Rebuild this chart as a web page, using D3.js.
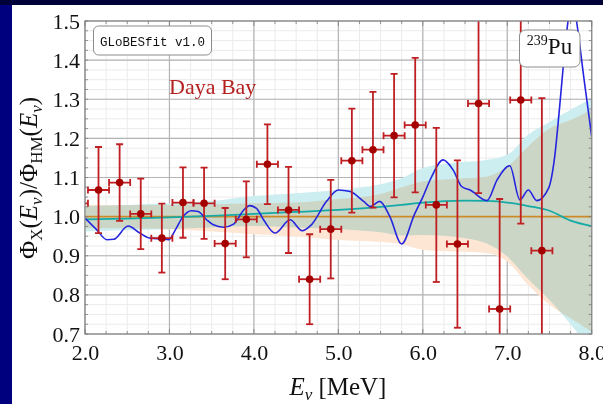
<!DOCTYPE html>
<html>
<head>
<meta charset="utf-8">
<script src="https://cdn.jsdelivr.net/npm/d3@7"></script>
<style>
  body { margin: 0; background: #00007e; }
  svg { display: block; }
</style>
</head>
<body>
<svg id="chart" width="603" height="404"></svg>
<script>
// Daya Bay 239Pu data points (bin centres in MeV, ratio, 1 sigma)
const binE = [1.91, 2.16, 2.41, 2.66, 2.91, 3.16, 3.41, 3.66, 3.91, 4.16, 4.41, 4.66,
  4.91, 5.16, 5.41, 5.66, 5.91, 6.16, 6.41, 6.66, 6.91, 7.16, 7.41];
const ratio = [1.034, 1.068, 1.087, 1.007, 0.945, 1.036, 1.034, 0.931, 0.993, 1.134, 1.017, 0.840,
  0.968, 1.143, 1.171, 1.207, 1.234, 1.030, 0.930, 1.289, 0.764, 1.298, 0.913];
const ratioErr = [0.10, 0.11, 0.098, 0.09, 0.088, 0.09, 0.091, 0.091, 0.097, 0.102, 0.11, 0.115,
  0.126, 0.133, 0.148, 0.158, 0.172, 0.197, 0.214, 0.229, 0.281, 0.316, 0.39];
const binHalf = 0.125;

// fit bands
const bandE   = [2.0, 2.5, 3.0, 3.5, 4.0, 4.5, 5.0, 5.5, 5.75, 6.0, 6.5, 6.75, 7.0, 7.25, 7.5, 7.75, 8.0];
const fitMid  = [0.993, 0.995, 0.998, 1.002, 1.007, 1.012, 1.017, 1.025, 1.030, 1.036, 1.041, 1.040, 1.036, 1.027, 1.015, 0.990, 0.976];
const fitHi   = [1.027, 1.030, 1.034, 1.040, 1.053, 1.060, 1.068, 1.083, 1.098, 1.124, 1.140, 1.145, 1.158, 1.210, 1.242, 1.273, 1.302];
const fitLo   = [0.962, 0.966, 0.968, 0.972, 0.976, 0.972, 0.968, 0.960, 0.952, 0.953, 0.945, 0.932, 0.898, 0.840, 0.787, 0.725, 0.655];
const hmHi    = [1.030, 1.030, 1.030, 1.031, 1.034, 1.036, 1.045, 1.058, 1.075, 1.090, 1.098, 1.102, 1.128, 1.180, 1.225, 1.247, 1.273];
const hmLo    = [0.970, 0.970, 0.968, 0.962, 0.955, 0.949, 0.940, 0.935, 0.930, 0.915, 0.910, 0.907, 0.885, 0.825, 0.775, 0.740, 0.706];
const hmRatio = 1.0;

// blue curve
const curveE = [2.00, 2.14, 2.26, 2.34, 2.51, 2.65, 2.77, 2.91, 2.99, 3.07, 3.16, 3.26, 3.34, 3.44,
  3.52, 3.64, 3.76, 3.88, 3.95, 4.03, 4.12, 4.25, 4.43, 4.57, 4.68, 4.86, 5.00, 5.14, 5.30, 5.38,
  5.49, 5.61, 5.75, 5.90, 6.00, 6.10, 6.24, 6.36, 6.46, 6.56, 6.76, 6.88, 7.03, 7.15, 7.25, 7.35,
  7.49, 7.56, 7.62, 7.67, 7.72, 7.77, 7.82, 7.91, 8.00];
const curveV = [0.996, 0.966, 0.941, 0.942, 0.976, 0.958, 0.945, 0.943, 0.941, 0.966, 1.000, 1.015, 1.013, 0.992,
  0.979, 0.973, 0.981, 1.017, 1.028, 1.021, 0.990, 0.958, 0.992, 0.964, 0.979, 1.039, 1.068, 1.064, 1.039, 1.026,
  1.039, 1.000, 0.930, 1.005, 1.050, 1.100, 1.145, 1.119, 1.077, 1.068, 1.041, 1.094, 1.130, 1.043, 1.068, 1.041,
  1.073, 1.150, 1.280, 1.400, 1.500, 1.560, 1.500, 1.350, 1.205];

const xTicks = [2, 3, 4, 5, 6, 7, 8];
const yTicks = [0.7, 0.8, 0.9, 1.0, 1.1, 1.2, 1.3, 1.4, 1.5];

const svg = d3.select("#chart");
const W = 603, H = 404;
const serif = "'Liberation Serif', 'DejaVu Serif', serif";

// slide background + white panel
svg.append("rect").attr("width", W).attr("height", H).attr("fill", "#00007e");
svg.append("rect").attr("width", W).attr("height", 5).attr("fill", "#000038");
svg.append("rect").attr("x", 12).attr("y", 5).attr("width", W - 12).attr("height", H - 5).attr("fill", "#fff");

const x = d3.scaleLinear().domain([2, 8]).range([85, 591.7]);
const y = d3.scaleLinear().domain([0.7, 1.5]).range([334, 21]);
const [x0, x1] = x.range(), [y0, y1] = [y(1.5), y(0.7)];

svg.append("clipPath").attr("id", "plotclip")
  .append("rect").attr("x", x0).attr("y", y0).attr("width", x1 - x0).attr("height", y1 - y0);

// grid
const xMinor = d3.range(2, 8.001, 0.25);
const yMinor = d3.range(0.7, 1.5001, 0.025);
const grid = svg.append("g");
grid.selectAll(".vx").data(xMinor).join("line")
  .attr("x1", d => x(d)).attr("x2", d => x(d)).attr("y1", y0).attr("y2", y1)
  .attr("stroke", "#ebebeb").attr("stroke-width", 1);
grid.selectAll(".hy").data(yMinor).join("line")
  .attr("x1", x0).attr("x2", x1).attr("y1", d => y(d)).attr("y2", d => y(d))
  .attr("stroke", "#ebebeb").attr("stroke-width", 1);
grid.append("g").selectAll("line").data(xTicks).join("line")
  .attr("x1", d => x(d)).attr("x2", d => x(d)).attr("y1", y0).attr("y2", y1)
  .attr("stroke", "#b4b4b4").attr("stroke-width", 1.2);
grid.append("g").selectAll("line").data(yTicks).join("line")
  .attr("x1", x0).attr("x2", x1).attr("y1", d => y(d)).attr("y2", d => y(d))
  .attr("stroke", "#b4b4b4").attr("stroke-width", 1.2);

const plot = svg.append("g").attr("clip-path", "url(#plotclip)");

// bands, multiplied so the overlap turns grey-green
const bands = plot.append("g").style("isolation", "isolate");
const bandArea = (hi, lo) => d3.area()
  .x((d, i) => x(bandE[i])).y0((d, i) => y(lo[i])).y1((d, i) => y(hi[i]))
  .curve(d3.curveMonotoneX)(bandE);
bands.append("path").attr("d", bandArea(fitHi, fitLo))
  .attr("fill", "#cdeef0").style("mix-blend-mode", "multiply");
bands.append("path").attr("d", bandArea(hmHi, hmLo))
  .attr("fill", "#fde6d4").style("mix-blend-mode", "multiply");

// HM line and fit line
plot.append("line").attr("x1", x0).attr("x2", x1)
  .attr("y1", y(hmRatio)).attr("y2", y(hmRatio))
  .attr("stroke", "#cc8a2a").attr("stroke-width", 1.6);
plot.append("path")
  .attr("d", d3.line().x((d, i) => x(bandE[i])).y(d => y(d)).curve(d3.curveMonotoneX)(fitMid))
  .attr("fill", "none").attr("stroke", "#16aaa6").attr("stroke-width", 1.8);

// blue curve
plot.append("path")
  .attr("d", d3.line().x((d, i) => x(curveE[i])).y(d => y(d)).curve(d3.curveMonotoneX)(curveV))
  .attr("fill", "none").attr("stroke", "#2525e0").attr("stroke-width", 1.6);

// data points with error bars
const pts = binE.map((e, i) => ({ e, v: ratio[i], s: ratioErr[i] }));
const eb = plot.append("g").attr("stroke", "#bf1f22").attr("stroke-width", 1.8);
const cap = 3.5;
pts.forEach(p => {
  const g = eb.append("g");
  g.append("line").attr("x1", x(p.e)).attr("x2", x(p.e)).attr("y1", y(p.v - p.s)).attr("y2", y(p.v + p.s));
  g.append("line").attr("x1", x(p.e - binHalf)).attr("x2", x(p.e + binHalf)).attr("y1", y(p.v)).attr("y2", y(p.v));
  [p.v - p.s, p.v + p.s].forEach(v => g.append("line")
    .attr("x1", x(p.e) - cap).attr("x2", x(p.e) + cap).attr("y1", y(v)).attr("y2", y(v)));
  [p.e - binHalf, p.e + binHalf].forEach(e => g.append("line")
    .attr("x1", x(e)).attr("x2", x(e)).attr("y1", y(p.v) - cap).attr("y2", y(p.v) + cap));
});
plot.append("g").selectAll("circle").data(pts).join("circle")
  .attr("cx", d => x(d.e)).attr("cy", d => y(d.v)).attr("r", 3.8)
  .attr("fill", "#a50000");

// frame and inward ticks
svg.append("rect").attr("x", x0).attr("y", y0).attr("width", x1 - x0).attr("height", y1 - y0)
  .attr("fill", "none").attr("stroke", "#8a8a8a").attr("stroke-width", 1.2);
const tk = svg.append("g").attr("stroke", "#7a7a7a").attr("stroke-width", 0.8);
xMinor.forEach(d => {
  const L = xTicks.includes(d) ? 5 : 3;
  tk.append("line").attr("x1", x(d)).attr("x2", x(d)).attr("y1", y1).attr("y2", y1 - L);
  tk.append("line").attr("x1", x(d)).attr("x2", x(d)).attr("y1", y0).attr("y2", y0 + L);
});
yMinor.forEach(d => {
  tk.append("line").attr("x1", x0).attr("x2", x0 + 3).attr("y1", y(d)).attr("y2", y(d));
  tk.append("line").attr("x1", x1).attr("x2", x1 - 3).attr("y1", y(d)).attr("y2", y(d));
});

// axes labels
const xAxis = svg.append("g").attr("transform", `translate(0,${y1})`)
  .call(d3.axisBottom(x).tickValues(xTicks).tickFormat(d3.format(".1f")).tickSize(0).tickPadding(10));
const yAxis = svg.append("g").attr("transform", `translate(${x0},0)`)
  .call(d3.axisLeft(y).tickValues(yTicks).tickFormat(d3.format(".1f")).tickSize(0).tickPadding(5));
[xAxis, yAxis].forEach(a => {
  a.select(".domain").remove();
  a.selectAll("text").attr("font-family", serif).attr("font-size", 22).attr("fill", "#111");
});

// x title
const xt = svg.append("text").attr("x", 338).attr("y", 395).attr("text-anchor", "middle")
  .attr("font-family", serif).attr("font-size", 25).attr("fill", "#111");
xt.append("tspan").attr("font-style", "italic").text("E");
xt.append("tspan").attr("font-style", "italic").attr("font-size", 17).attr("dy", 5).text("ν");
xt.append("tspan").attr("dy", -5).attr("dx", 6).text("[MeV]");

// y title
const yt = svg.append("text").attr("transform", "translate(37,178) rotate(-90)")
  .attr("text-anchor", "middle").attr("font-family", serif).attr("font-size", 25).attr("fill", "#111");
const ySeg = [
  ["Φ", 0, false, 25], ["X", 5, false, 17], ["(", -5, false, 25], ["E", 0, true, 25], ["ν", 5, true, 17],
  [")/Φ", -5, false, 25], ["HM", 5, false, 17], ["(", -5, false, 25], ["E", 0, true, 25], ["ν", 5, true, 17],
  [")", -5, false, 25]
];
ySeg.forEach(([t, dy, it, fs]) => yt.append("tspan").attr("dy", dy).attr("font-size", fs)
  .attr("font-style", it ? "italic" : "normal").text(t));

// GLoBESfit box
svg.append("rect").attr("x", 93.5).attr("y", 26).attr("width", 118).attr("height", 29).attr("rx", 5)
  .attr("fill", "#fff").attr("stroke", "#8c8c8c").attr("stroke-width", 1);
svg.append("text").attr("x", 152.5).attr("y", 45.5).attr("text-anchor", "middle")
  .attr("font-family", "'Liberation Mono', 'DejaVu Sans Mono', monospace").attr("font-size", 12.5)
  .attr("fill", "#111").text("GLoBESfit v1.0");

// Daya Bay label
svg.append("text").attr("x", 169).attr("y", 93.5).attr("font-family", serif).attr("font-size", 22)
  .attr("fill", "#b52020").text("Daya Bay");

// isotope box
svg.append("rect").attr("x", 519.5).attr("y", 30).attr("width", 60.5).attr("height", 37).attr("rx", 6)
  .attr("fill", "#fff").attr("stroke", "#8c8c8c").attr("stroke-width", 1);
const iso = svg.append("text").attr("x", 549.5).attr("y", 54).attr("text-anchor", "middle")
  .attr("font-family", serif).attr("font-size", 23).attr("fill", "#111");
iso.append("tspan").attr("font-size", 14).attr("dy", -9).text("239");
iso.append("tspan").attr("dy", 9).text("Pu");
</script>
</body>
</html>
